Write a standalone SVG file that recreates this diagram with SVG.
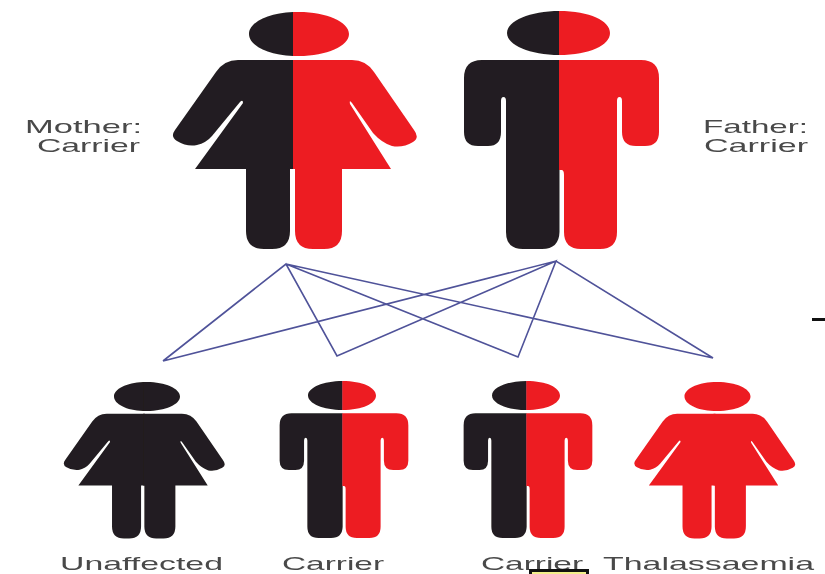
<svg xmlns="http://www.w3.org/2000/svg" xmlns:xlink="http://www.w3.org/1999/xlink" width="825" height="574" viewBox="0 0 825 574">
<style>
.k{fill:#231f20}
.r{fill:#ed1c24}
.t{font-family:"Liberation Sans",Arial,sans-serif;font-size:19px;fill:#4a4a4a;filter:url(#s)}
.c{fill:none;stroke:#4f5299;stroke-width:1.6;stroke-linejoin:miter;filter:url(#l)}
.f{filter:url(#b)}
</style>
<defs>
<filter id="b" x="-5%" y="-5%" width="110%" height="110%"><feGaussianBlur stdDeviation="0.6"/></filter>
<filter id="s" x="-5%" y="-20%" width="110%" height="140%"><feGaussianBlur stdDeviation="0.45"/></filter>
<filter id="l" x="-5%" y="-5%" width="110%" height="110%"><feGaussianBlur stdDeviation="0.3"/></filter>
<path id="wl" d="M296 12H293C268 13 249 22.500 249 34C249 45.500 268 55 293 56H296ZM296 60H238Q224 60 216 72L175 130Q170 137 177 141Q187 147 197 145Q206 143 212 136L240 102Q243 99 243 103L195 169H246V231Q246 249 264 249H272Q290 249 290 231V169H296Z"/>
<path id="wr" d="M293 12.100C295 12 297 12 299 12C326.500 12 349 21.900 349 34C349 46.100 326.500 56 299 56C297 56 295 56 293 55.900ZM293 60H352Q366 60 374 72L414 130Q420 138 413 142Q403 148 392 146Q382 143 373 133L352 103Q349 99 350 104L391 169H342V231Q342 249 324 249H313Q295 249 295 231V169H293Z"/>
<path id="ml" d="M559.500 11C530 11 507 21 507 33C507 45 530 55 559.500 55ZM559.500 60H482Q464 60 464 78V132Q464 146 478 146H488Q501 146 501 132V101Q501 97 503.500 97Q506 97 506 101V232Q506 249 523 249H542Q559 249 559.500 232Z"/>
<path id="mr" d="M559 11C590 11 610 21 610 33C610 45 590 55 559 55ZM559 60H641Q659 60 659 78V132Q659 146 645 146H636Q622 146 622 132V101Q622 97 619.500 97Q617 97 617 101V232Q617 249 600 249H581Q564 249 564 232V175Q564 170 561.500 170H559Z"/>
</defs>
<rect width="825" height="574" fill="#fff"/>
<g id="connectors">
<polyline class="c" points="163,361 286,264 337,356 556,261 518,357 286,264 713,358 556,261 163,361"/>
</g>
<g id="mother" class="f"><use href="#wl" class="k"/><use href="#wr" class="r"/></g>
<g id="father" class="f"><use href="#ml" class="k"/><use href="#mr" class="r"/></g>
<g id="child-unaffected" class="f" transform="translate(147 382) scale(.66) translate(-299 -12)"><use href="#wl" class="k"/><use href="#wr" class="k"/></g>
<g id="child-carrier-1" class="f" transform="translate(342 381) scale(.66) translate(-558.5 -11)"><use href="#ml" class="k"/><use href="#mr" class="r"/></g>
<g id="child-carrier-2" class="f" transform="translate(526 381) scale(.66) translate(-558.5 -11)"><use href="#ml" class="k"/><use href="#mr" class="r"/></g>
<g id="child-thalassaemia" class="f" transform="translate(717.5 382) scale(.66) translate(-299 -12)"><use href="#wl" class="r"/><use href="#wr" class="r"/></g>
<g id="labels">
<text class="t" x="25" y="133" textLength="117" lengthAdjust="spacingAndGlyphs">Mother:</text>
<text class="t" x="37" y="152" textLength="103" lengthAdjust="spacingAndGlyphs">Carrier</text>
<text class="t" x="703" y="133" textLength="105" lengthAdjust="spacingAndGlyphs">Father:</text>
<text class="t" x="704" y="152" textLength="104" lengthAdjust="spacingAndGlyphs">Carrier</text>
<text class="t" x="60" y="570" textLength="163" lengthAdjust="spacingAndGlyphs">Unaffected</text>
<text class="t" x="282" y="570" textLength="102" lengthAdjust="spacingAndGlyphs">Carrier</text>
<text class="t" x="481" y="570" textLength="102" lengthAdjust="spacingAndGlyphs">Carrier</text>
<text class="t" x="603" y="570" textLength="211" lengthAdjust="spacingAndGlyphs">Thalassaemia</text>
</g>
<g id="marks">
<rect x="812" y="318" width="13" height="3" fill="#111"/>
<rect x="530.5" y="570.5" width="57" height="6" fill="#f2ee8a" stroke="#111" stroke-width="3"/>
</g>
</svg>
